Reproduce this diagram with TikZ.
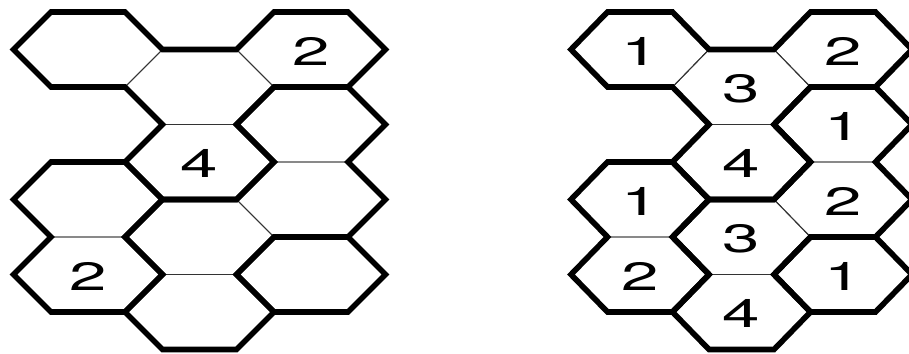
\documentclass[tikz,border=0pt]{standalone}
\usepackage{fontspec}
\setmainfont{TeX Gyre Heros}
\usepackage{graphicx}
\usetikzlibrary{calc}

\newcommand{\widedigit}[1]{\scalebox{1.7}[1]{#1}}

\begin{document}
\begin{tikzpicture}[
  x=0.02cm, y=-0.02cm,
  cellline/.style = {draw=black!80, line width=0.55pt},
  wall/.style     = {draw=black, line width=3.2pt, line join=miter},
  digit/.style    = {inner sep=0pt, yshift=-1pt, font=\fontsize{22.5}{26}\selectfont}
]
\useasboundingbox (0,0) rectangle (909,354);

% ---------- cell centres, corners and thin grid ----------
\foreach \p/\xo/\aw/\tw in {l/88/74.5/37, r/640/69/32.5} {
  \foreach \cel/\col/\yc in {A/0/49.5, B/1/87, C/2/49.5, D/1/162, E/2/124.5,
                             F/0/199.5, G/1/237, H/2/199.5, I/0/274.5,
                             J/1/312, K/2/274.5} {
    \coordinate (\p-\cel)    at ({\xo+\col*(\aw+\tw)}, \yc);
    \coordinate (\p-\cel-L)  at ($(\p-\cel)+(-\aw,0)$);
    \coordinate (\p-\cel-UL) at ($(\p-\cel)+(-\tw,-37.5)$);
    \coordinate (\p-\cel-UR) at ($(\p-\cel)+(\tw,-37.5)$);
    \coordinate (\p-\cel-R)  at ($(\p-\cel)+(\aw,0)$);
    \coordinate (\p-\cel-LR) at ($(\p-\cel)+(\tw,37.5)$);
    \coordinate (\p-\cel-LL) at ($(\p-\cel)+(-\tw,37.5)$);
    \draw[cellline] (\p-\cel-L) -- (\p-\cel-UL) -- (\p-\cel-UR) -- (\p-\cel-R)
                    -- (\p-\cel-LR) -- (\p-\cel-LL) -- cycle;
  }
}

% ---------- region walls ----------
\foreach \p in {l, r} {
  \draw[wall] (\p-A-L) -- (\p-A-UL) -- (\p-A-UR) -- (\p-A-R) -- (\p-B-UR)
    -- (\p-C-UL) -- (\p-C-UR) -- (\p-C-R) -- (\p-C-LR) -- (\p-C-LL)
    -- (\p-D-UR) -- (\p-D-R) -- (\p-D-LR) -- (\p-D-LL) -- (\p-D-L)
    -- (\p-B-LL) -- (\p-B-L) -- (\p-A-LL) -- cycle;
  \draw[wall] (\p-E-L) -- (\p-E-UL) -- (\p-E-UR) -- (\p-E-R) -- (\p-H-UR)
    -- (\p-H-R) -- (\p-H-LR) -- (\p-G-R) -- (\p-J-UR) -- (\p-J-R)
    -- (\p-J-LR) -- (\p-J-LL) -- (\p-J-L) -- (\p-G-LL) -- (\p-G-L)
    -- (\p-G-UL) -- (\p-H-L) -- (\p-E-LL) -- cycle;
  \draw[wall] (\p-F-L) -- (\p-F-UL) -- (\p-F-UR) -- (\p-F-R) -- (\p-I-UR)
    -- (\p-I-R) -- (\p-I-LR) -- (\p-I-LL) -- (\p-I-L) -- (\p-F-LL) -- cycle;
  \draw[wall] (\p-K-L) -- (\p-K-UL) -- (\p-K-UR) -- (\p-K-R) -- (\p-K-LR)
    -- (\p-K-LL) -- cycle;
}

% ---------- numbers ----------
\foreach \p/\cel/\val in {l/C/2, l/D/4, l/I/2,
                          r/A/1, r/B/3, r/C/2, r/D/4, r/E/1, r/F/1,
                          r/G/3, r/H/2, r/I/2, r/J/4, r/K/1}
  \node[digit] (\p-\cel-num) at (\p-\cel) {\widedigit{\val}};

\end{tikzpicture}
\end{document}
